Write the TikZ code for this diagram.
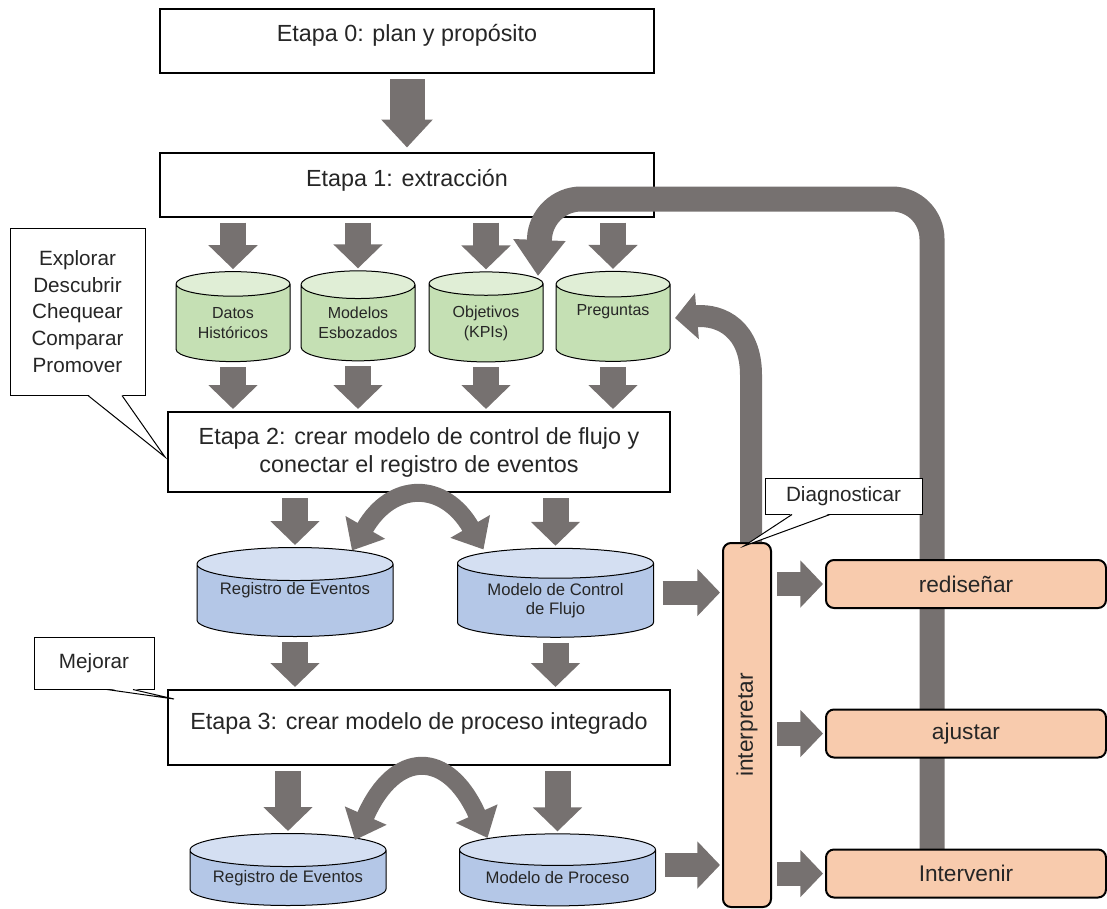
\documentclass[tikz,border=0pt]{standalone}
\usepackage{fontspec}
\setmainfont{Liberation Sans}
\usetikzlibrary{shapes.geometric,arrows.meta,calc}

\definecolor{gris}{RGB}{118,113,112}
\definecolor{verdecuerpo}{RGB}{197,224,180}
\definecolor{verdetapa}{RGB}{224,238,214}
\definecolor{azulcuerpo}{RGB}{180,199,231}
\definecolor{azultapa}{RGB}{212,223,242}
\definecolor{salmon}{RGB}{248,203,173}
\definecolor{texto}{RGB}{38,38,38}

\tikzset{every picture/.style={line width=0.75pt}}
\tikzset{
  etapa/.style={draw, line width=1.5pt, fill=white, text=texto, align=center,
    minimum width=370.5pt, font=\fontsize{17.5}{21}\selectfont},
  almacen/.style={cylinder, shape border rotate=90, draw, cylinder uses custom fill,
    inner sep=0pt, align=center, text=texto},
  verde/.style={almacen, cylinder body fill=verdecuerpo, cylinder end fill=verdetapa,
    aspect=0.35, minimum width=85.5pt, minimum height=67.5pt, font=\fontsize{12}{15}\selectfont},
  azul/.style={almacen, cylinder body fill=azulcuerpo, cylinder end fill=azultapa,
    aspect=0.22, minimum width=147pt, font=\fontsize{12.5}{14}\selectfont},
  accion/.style={draw, line width=1.5pt, fill=salmon, rounded corners=6pt, text=texto,
    minimum width=210pt, minimum height=36pt, font=\fontsize{17}{20}\selectfont},
  nota/.style={draw, fill=white, text=texto, align=center, font=\fontsize{15.5}{20}\selectfont},
  flechagorda/.style={gris, line width=26.25pt, shorten <=3.75pt, shorten >=3pt,
    -{Triangle[length=21pt,width=37.5pt]}},
  flechaabajo/.style={gris, line width=19.5pt, shorten <=3.75pt, shorten >=1.5pt,
    -{Triangle[length=18pt,width=36pt]}},
  flechader/.style={gris, line width=18pt, shorten <=3.75pt, shorten >=1.5pt,
    -{Triangle[length=17pt,width=34.5pt]}},
  flechacurva/.style={gris, line width=13.5pt,
    {Triangle[length=20pt,width=33pt]}-{Triangle[length=20pt,width=33pt]}},
  flechalazo/.style={gris, line width=18.75pt, rounded corners=30pt,
    -{Triangle[length=27pt,width=37.5pt]}},
  flechavuelta/.style={gris, line width=16.5pt, -{Triangle[length=16.5pt,width=33.75pt]}},
}

\begin{document}
\begin{tikzpicture}[x=0.75pt,y=0.75pt,yscale=-1,xscale=1]
\useasboundingbox (0,0) rectangle (1107,908);

% Etapas
\node[etapa, minimum height=48pt, text height=13pt, text depth=12.5pt] (etapa0) at (407,41) {Etapa 0: plan y propósito};
\node[etapa, minimum height=48pt, text height=13pt, text depth=9.4pt] (etapa1) at (407,184.5) {Etapa 1: extracción};
\node[etapa, minimum width=376.5pt, minimum height=60pt] (etapa2) at (419,452) {Etapa 2: crear modelo de control de flujo y\\conectar el registro de eventos};
\node[etapa, minimum width=376.5pt, minimum height=56.25pt, text height=13pt, text depth=9.4pt] (etapa3) at (419,727.5) {Etapa 3: crear modelo de proceso integrado};

% Cilindros verdes
\node[verde] (datos) at (233,323) {Datos\\Históricos};
\node[verde] (modelos) at (358,323) {Modelos\\Esbozados};
\node[verde] (objetivos) at (486,323) {Objetivos\\(KPIs)};
\node[verde] (preguntas) at (613,323) {Preguntas\\\strut};

% Cilindros azules
\node[azul, minimum height=66.75pt] (registro1) at (295,600.5) {Registro de Eventos\\\strut};
\node[azul, minimum height=66.75pt] (control) at (555.5,600.5) {Modelo de Control\\de Flujo};
\node[azul, minimum height=54pt] (registro2) at (288,878) {Registro de Eventos};
\node[azul, minimum height=54pt] (proceso) at (557.5,878) {Modelo de Proceso};

% Lazo de realimentacion (pasa sobre la etapa 1, bajo las acciones)
\coordinate (lazoinicio) at (932,850);
\coordinate (lazo1) at (932,199);
\coordinate (lazo2) at (541,199);
\coordinate (lazofin) at (538,276);
\draw[flechalazo] (lazoinicio) -- (lazo1) -- (lazo2) -- (lazofin);

% Interpretar y acciones
\node[accion, minimum width=36pt, minimum height=273pt] (interp) at (747,725) {};
\node[rotate=90, text=texto, font=\fontsize{17}{20}\selectfont] (interptexto) at (interp.center) {interpretar};
\node[accion] (redisenar) at (966,584) {rediseñar};
\node[accion] (ajustar) at (966,733.5) {ajustar};
\node[accion] (intervenir) at (966,873.5) {Intervenir};

% Flechas
\draw[flechagorda] (etapa0) -- (etapa1);
\foreach \c in {datos,modelos,objetivos,preguntas}{
  \draw[flechaabajo] (etapa1.south -| \c.top) -- (\c.top);
  \draw[flechaabajo] (\c.bottom) -- (\c.bottom |- etapa2.north);
}
\foreach \c in {registro1,control}{
  \draw[flechaabajo] (etapa2.south -| \c.top) -- (\c.top);
  \draw[flechaabajo] (\c.bottom) -- (\c.bottom |- etapa3.north);
}
\foreach \c in {registro2,proceso}{
  \draw[flechaabajo] (etapa3.south -| \c.top) -- (\c.top);
}
\draw[flechacurva] ($(registro1.center)+(57,-50)$) .. controls (392,481) and (444,481) .. ($(control.center)+(-72,-51)$);
\draw[flechacurva] ($(registro2.center)+(67,-38)$) .. controls (395,749) and (448,749) .. ($(proceso.center)+(-70,-40)$);
\draw[flechader] ($(control.center)+(102,-8)$) -- ($(interp.west |- control.center)+(0,-8)$);
\draw[flechader] ($(proceso.center)+(102,-13)$) -- ($(interp.west |- proceso.center)+(0,-13)$);
\foreach \a in {redisenar,ajustar,intervenir}{
  \draw[flechader] (interp.east |- \a.west) -- (\a.west);
}
\coordinate (vuelta) at (751,375);
\coordinate (pregfin) at ($(preguntas.center)+(62,-5)$);
\draw[flechavuelta] ($(interp.north)+(4,0)$) -- (vuelta) .. controls (751,330) and (722,314) .. (pregfin);

% Notas
\node[nota, minimum width=101.25pt, minimum height=125.25pt] (explora) at (77.5,311.5) {Explorar\\Descubrir\\Chequear\\Comparar\\Promover};
\coordinate (explorapunta) at (165,457);
\fill[white] ($(explora.south)+(10.5,-1)$) -- (explorapunta) -- ($(explora.south)+(44.5,-1)$) -- cycle;
\draw ($(explora.south)+(10.5,0)$) -- (explorapunta) -- ($(explora.south)+(44.5,0)$);

\node[nota, minimum width=90pt, minimum height=39pt] (mejora) at (94,663) {Mejorar};
\coordinate (mejorapunta) at (174,699);
\fill[white] ($(mejora.south)+(13,-1)$) -- (mejorapunta) -- ($(mejora.south)+(39,-1)$) -- cycle;
\draw ($(mejora.south)+(13,0)$) -- (mejorapunta) -- ($(mejora.south)+(39,0)$);

\node[nota, minimum width=117.75pt, minimum height=27pt] (diag) at (843.5,496) {Diagnosticar};
\coordinate (diagpunta) at (744,546);
\fill[white] ($(diag.south)+(-51.5,-1)$) -- (diagpunta) -- ($(diag.south)+(-13.5,-1)$) -- cycle;
\draw ($(diag.south)+(-51.5,0)$) -- (diagpunta) -- ($(diag.south)+(-13.5,0)$);
\end{tikzpicture}
\end{document}
